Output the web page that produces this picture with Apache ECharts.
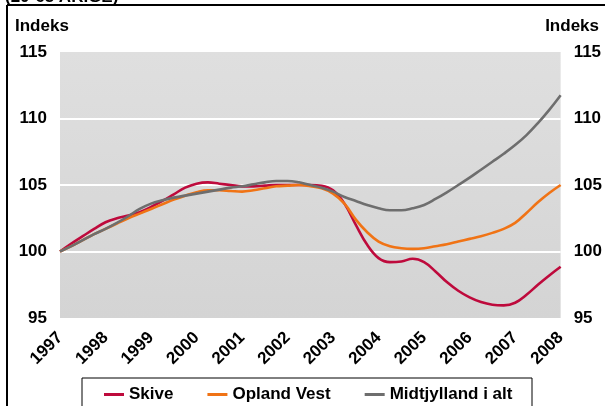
<!DOCTYPE html>
<html>
<head>
<meta charset="utf-8">
<script src="https://cdn.jsdelivr.net/npm/echarts@6/dist/echarts.min.js"></script>
<style>
html,body{margin:0;padding:0;background:#fff;}
#chart{width:605px;height:406px;}
</style>
</head>
<body>
<div id="chart"></div>
<script>
// Quarterly time points (years)
const quarterTimes = [
  1997.00,1997.25,1997.50,1997.75,1998.00,1998.25,1998.50,1998.75,
  1999.00,1999.25,1999.50,1999.75,2000.00,2000.25,2000.50,2000.75,
  2001.00,2001.25,2001.50,2001.75,2002.00,2002.25,2002.50,2002.75,
  2003.00,2003.25,2003.50,2003.75,2004.00,2004.25,2004.50,2004.75,
  2005.00,2005.25,2005.50,2005.75,2006.00,2006.25,2006.50,2006.75,
  2007.00,2007.25,2007.50,2007.75,2008.00
];
const seriesNames = ['Skive', 'Opland Vest', 'Midtjylland i alt'];
const skive = [
  100.0,100.6,101.15,101.7,102.2,102.5,102.7,102.95,
  103.35,103.8,104.3,104.8,105.1,105.2,105.1,105.0,
  104.9,104.9,104.95,105.0,105.0,105.0,105.0,104.95,
  104.6,103.6,102.0,100.5,99.5,99.2,99.25,99.45,
  99.2,98.5,97.7,97.05,96.55,96.2,96.0,95.95,
  96.15,96.75,97.5,98.2,98.85
];
const oplandVest = [
  100.0,100.4,100.85,101.3,101.7,102.1,102.5,102.85,
  103.2,103.55,103.9,104.2,104.45,104.6,104.6,104.55,
  104.5,104.6,104.75,104.9,104.95,105.0,104.9,104.75,
  104.35,103.6,102.4,101.45,100.75,100.4,100.25,100.2,
  100.25,100.4,100.55,100.75,100.95,101.15,101.4,101.7,
  102.15,102.9,103.7,104.4,105.0
];
const midtjylland = [
  100.0,100.4,100.85,101.3,101.7,102.15,102.65,103.2,
  103.6,103.85,104.05,104.2,104.35,104.5,104.65,104.8,
  104.9,105.05,105.2,105.3,105.3,105.2,105.0,104.8,
  104.5,104.1,103.8,103.5,103.25,103.1,103.1,103.25,
  103.5,103.95,104.45,105.0,105.55,106.15,106.75,107.35,
  108.0,108.75,109.65,110.65,111.75
];
const yTicks = {min: 95, max: 115, interval: 5};
const xTicks = {min: 1997, max: 2008, interval: 1};
const colors = ['#BE0A3C', '#F07315', '#6E6E6E'];

const pairs = arr => arr.map((v, i) => [quarterTimes[i], v]);
const FONT = 'Liberation Sans, Arial, sans-serif';

const chart = echarts.init(document.getElementById('chart'), null, {renderer: 'canvas'});
const yAxisBase = {
  type: 'value', min: yTicks.min, max: yTicks.max, interval: yTicks.interval,
  axisLine: {show: false}, axisTick: {show: false},
  axisLabel: {color: '#000', fontWeight: 'bold', fontSize: 17, fontFamily: FONT, margin: 13}
};
chart.setOption({
  animation: false,
  color: colors,
  grid: {
    left: 60, right: 44, top: 52, bottom: 88, show: true, borderWidth: 0,
    backgroundColor: new echarts.graphic.LinearGradient(0, 0, 0, 1, [
      {offset: 0, color: '#DFDFDF'}, {offset: 1, color: '#D4D4D4'}
    ])
  },
  xAxis: {
    type: 'value', min: xTicks.min, max: xTicks.max, interval: xTicks.interval,
    axisLine: {show: false}, axisTick: {show: false}, splitLine: {show: false},
    axisLabel: {
      rotate: 45, color: '#000', fontWeight: 'bold', fontSize: 17, fontFamily: FONT, margin: 17,
      formatter: v => String(v)
    }
  },
  yAxis: [
    Object.assign({}, yAxisBase, {
      position: 'left',
      splitLine: {show: true, showMinLine: false, showMaxLine: false, lineStyle: {color: '#FFFFFF', width: 2}}
    }),
    Object.assign({}, yAxisBase, {position: 'right', splitLine: {show: false}})
  ],
  legend: {
    bottom: -2, left: 99,
    data: seriesNames,
    icon: 'rect', itemWidth: 20, itemHeight: 3, itemGap: 34,
    textStyle: {color: '#000', fontWeight: 'bold', fontSize: 17, fontFamily: FONT}
  },
  graphic: [
    {type: 'text', left: 5, top: -11, style: {text: '(20-65 ÅRIGE)', fill: '#000', font: 'bold 17px ' + FONT}},
    {type: 'line', shape: {x1: 7, y1: 5, x2: 605, y2: 5}, style: {stroke: '#000', lineWidth: 2}},
    {type: 'line', shape: {x1: 7, y1: 5, x2: 7, y2: 406}, style: {stroke: '#000', lineWidth: 2}},
    {type: 'rect', shape: {x: 82, y: 378, width: 450, height: 40}, style: {fill: 'none', stroke: '#000', lineWidth: 1}},
    {type: 'text', left: 15, top: 18, style: {text: 'Indeks', fill: '#000', font: 'bold 17px ' + FONT}},
    {type: 'text', right: 6, top: 18, style: {text: 'Indeks', fill: '#000', font: 'bold 17px ' + FONT}}
  ],
  series: [
    {name: seriesNames[0], type: 'line', data: pairs(skive), smooth: 0.4, showSymbol: false, lineStyle: {width: 2.6, color: colors[0]}, z: 3},
    {name: seriesNames[1], type: 'line', data: pairs(oplandVest), smooth: 0.4, showSymbol: false, lineStyle: {width: 2.6, color: colors[1]}, z: 4},
    {name: seriesNames[2], type: 'line', data: pairs(midtjylland), smooth: 0.4, showSymbol: false, lineStyle: {width: 2.6, color: colors[2]}, z: 5}
  ]
});
</script>
</body>
</html>
